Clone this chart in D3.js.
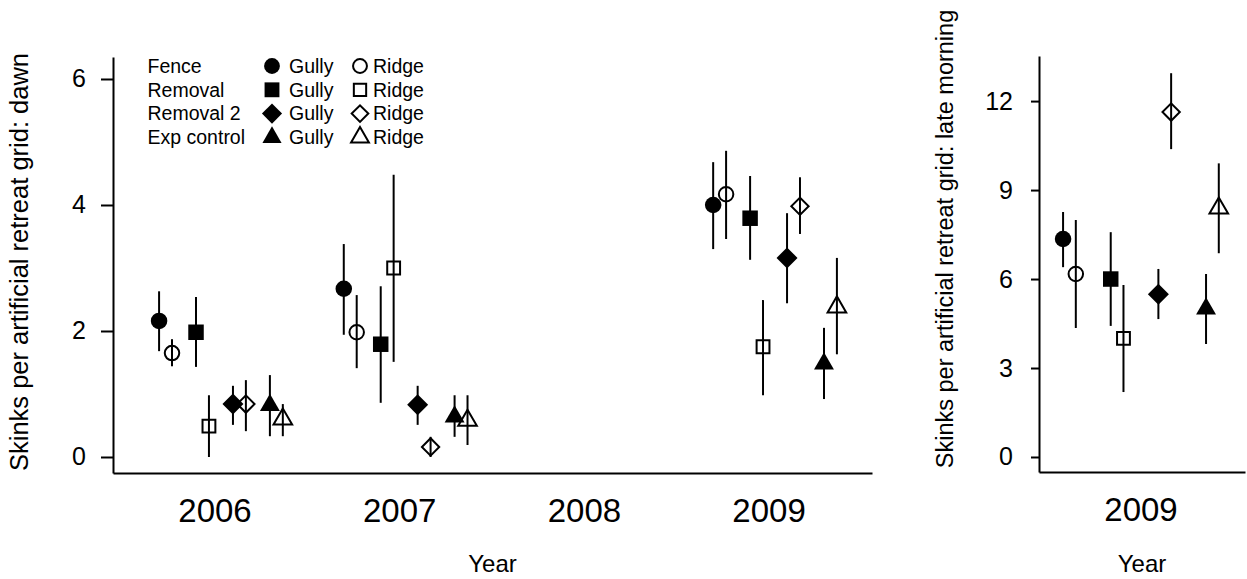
<!DOCTYPE html>
<html>
<head>
  <title>Skinks per retreat grid</title>
  <script src="https://d3js.org/d3.v7.min.js"></script>
  <style>
    body { margin: 0; background: #fff; }
    text { font-family: "Liberation Sans", Arial, sans-serif; fill: #000; }
  </style>
</head>
<body>
<svg width="1247" height="579"></svg>
<script>
  // data
  const treatments = ["Fence", "Removal", "Removal 2", "Exp control"];
  const habitats = ["Gully", "Ridge"];
  const years = [2006, 2007, 2009];
  const yearTicks = [2006, 2007, 2008, 2009];
  const dawnTicks = [0, 2, 4, 6];
  const lateTicks = [0, 3, 6, 9, 12];

  // dawn: one row per year, one column per treatment
  const dawnGully = [[2.16, 1.98, 0.84, 0.82], [2.67, 1.79, 0.83, 0.64], [4.0, 3.79, 3.16, 1.48]];
  const dawnGullyLo = [[1.68, 1.43, 0.51, 0.33], [1.94, 0.86, 0.51, 0.32], [3.3, 3.13, 2.44, 0.92]];
  const dawnGullyHi = [[2.63, 2.54, 1.13, 1.3], [3.38, 2.71, 1.13, 0.98], [4.68, 4.46, 3.87, 2.05]];
  const dawnRidge = [[1.65, 0.49, 0.84, 0.6], [1.98, 3.0, 0.16, 0.58], [4.17, 1.75, 3.98, 2.38]];
  const dawnRidgeLo = [[1.44, 0.0, 0.41, 0.33], [1.41, 1.51, 0.0, 0.19], [3.46, 0.98, 3.54, 1.63]];
  const dawnRidgeHi = [[1.87, 0.98, 1.22, 0.84], [2.57, 4.48, 0.32, 0.98], [4.86, 2.49, 4.44, 3.16]];

  // late morning, 2009 only
  const lateGully = [7.35, 6.0, 5.49, 5.0];
  const lateGullyLo = [6.4, 4.42, 4.65, 3.81];
  const lateGullyHi = [8.26, 7.58, 6.34, 6.17];
  const lateRidge = [6.17, 4.0, 11.63, 8.39];
  const lateRidgeLo = [4.35, 2.19, 10.38, 6.87];
  const lateRidgeHi = [7.99, 5.8, 12.94, 9.9];

  const treatOffset = [-0.3, -0.1, 0.1, 0.3];

  const svg = d3.select("svg");

  function records(yrs, mean, lo, hi, hab) {
    const out = [];
    yrs.forEach((yr, i) => {
      treatments.forEach((t, j) => {
        out.push({ year: yr, t: j, hab: hab, v: mean[i][j], lo: lo[i][j], hi: hi[i][j] });
      });
    });
    return out;
  }

  const dawnData = records(years, dawnGully, dawnGullyLo, dawnGullyHi, 0)
    .concat(records(years, dawnRidge, dawnRidgeLo, dawnRidgeHi, 1));
  const lateData = records([2009], [lateGully], [lateGullyLo], [lateGullyHi], 0)
    .concat(records([2009], [lateRidge], [lateRidgeLo], [lateRidgeHi], 1));

  const filledSize = [214, 240, 220, 172];
  const openSize = [165, 165, 150, 150];

  function symbolPath(t, hab, k) {
    const size = (hab === 0 ? filledSize[t] : openSize[t]) * (k || 1);
    const type = [d3.symbolCircle, d3.symbolSquare, d3.symbolSquare, d3.symbolTriangle][t];
    return d3.symbol().type(type).size(size)();
  }

  function drawSymbol(g, t, hab, x, y, k) {
    g.append("path")
      .attr("d", symbolPath(t, hab, k))
      .attr("transform", `translate(${x},${y})` + (t === 2 ? " rotate(45)" : ""))
      .attr("fill", hab === 0 ? "#000" : "none")
      .attr("stroke", hab === 0 ? "none" : "#000")
      .attr("stroke-width", 2);
  }

  function panel(opt) {
    const x = d3.scaleLinear().domain(opt.xDomain).range(opt.xRange);
    const y = d3.scaleLinear().domain(opt.yDomain).range(opt.yRange);
    const g = svg.append("g");

    const yAxis = g.append("g")
      .attr("transform", `translate(${opt.xRange[0]},0)`)
      .call(d3.axisLeft(y).tickValues(opt.yTicks).tickFormat(d3.format("d"))
        .tickSize(opt.tick).tickSizeOuter(0).tickPadding(opt.pad));
    yAxis.selectAll("text").style("font-size", "25px");

    const xAxis = g.append("g")
      .attr("transform", `translate(0,${opt.yRange[0]})`)
      .call(d3.axisBottom(x).tickValues(opt.xTicks).tickFormat(d3.format("d"))
        .tickSize(0).tickSizeOuter(0).tickPadding(26));
    xAxis.selectAll("text").style("font-size", "33px");

    g.selectAll(".domain, .tick line").attr("stroke", "#000").attr("stroke-width", 2);

    const px = d => x(d.year + opt.shift + treatOffset[d.t] + d.hab * opt.ridge);

    g.selectAll("line.err")
      .data(opt.data)
      .join("line")
      .attr("class", "err")
      .attr("x1", px).attr("x2", px)
      .attr("y1", d => y(d.lo)).attr("y2", d => y(d.hi))
      .attr("stroke", "#000")
      .attr("stroke-width", 2);

    opt.data.forEach(d => drawSymbol(g, d.t, d.hab, px(d), y(d.v)));

    g.append("text")
      .attr("transform", `translate(${opt.titleX},${opt.titleY}) rotate(-90)`)
      .attr("text-anchor", "middle")
      .style("font-size", opt.titleSize + "px")
      .text(opt.title);

    g.append("text")
      .attr("x", (opt.xRange[0] + opt.xRange[1]) / 2)
      .attr("y", 572)
      .attr("text-anchor", "middle")
      .style("font-size", "24px")
      .text("Year");
  }

  panel({
    data: dawnData,
    xDomain: [2005.4505, 2009.56], xRange: [113, 872],
    yDomain: [-0.254, 6.349], yRange: [473, 57],
    yTicks: dawnTicks, xTicks: yearTicks,
    tick: 12, pad: 15, shift: 0, ridge: 0.07,
    title: "Skinks per artificial retreat grid: dawn",
    titleX: 28, titleY: 262, titleSize: 25.5
  });

  panel({
    data: lateData,
    xDomain: [2008.574, 2009.4385], xRange: [1039, 1245],
    yDomain: [-0.506, 13.52], yRange: [472, 56],
    yTicks: lateTicks, xTicks: [2009],
    tick: 8, pad: 18, shift: -0.025, ridge: 0.0535,
    title: "Skinks per artificial retreat grid: late morning",
    titleX: 953, titleY: 239, titleSize: 23.5
  });

  // legend
  const legend = svg.append("g");
  treatments.forEach((t, i) => {
    const cy = 66 + i * 23.8;
    legend.append("text").attr("x", 147.5).attr("y", cy + 6.7).style("font-size", "19.5px").text(t);
    drawSymbol(legend, i, 0, 272, cy, 0.92);
    legend.append("text").attr("x", 289).attr("y", cy + 6.7).style("font-size", "19.5px").text(habitats[0]);
    drawSymbol(legend, i, 1, 360, cy, 0.92);
    legend.append("text").attr("x", 373).attr("y", cy + 6.7).style("font-size", "19.5px").text(habitats[1]);
  });
</script>
</body>
</html>
